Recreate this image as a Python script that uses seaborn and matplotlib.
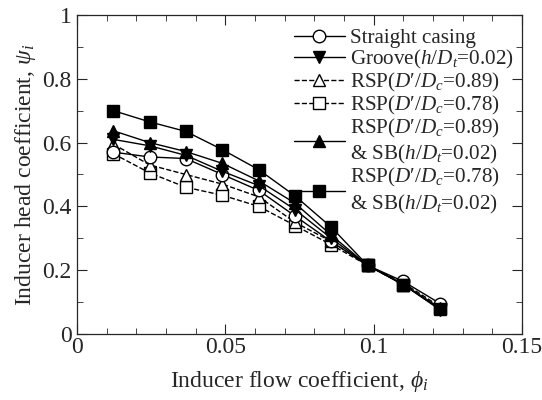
import matplotlib
matplotlib.use("Agg")
import matplotlib.pyplot as plt
from matplotlib.ticker import MultipleLocator, FuncFormatter
import seaborn as sns

# flow coefficient (x) and head coefficient for each casing (y)
phi = [0.0123, 0.0245, 0.0367, 0.049, 0.0613, 0.0735, 0.0857, 0.098, 0.110, 0.1225]

straight = [0.57, 0.555, 0.55, 0.50, 0.45, 0.37, 0.29, 0.215, 0.165, 0.095]
groove = [0.61, 0.59, 0.56, 0.51, 0.465, 0.39, 0.30, 0.215, 0.155, 0.075]
rsp_089 = [0.595, 0.53, 0.50, 0.47, 0.43, 0.35, 0.29, 0.215, 0.16, 0.085]
rsp_078 = [0.565, 0.505, 0.46, 0.435, 0.40, 0.34, 0.28, 0.215, 0.155, 0.08]
rsp_089_sb = [0.637, 0.60, 0.572, 0.535, 0.48, 0.41, 0.31, 0.215, 0.155, 0.08]
rsp_078_sb = [0.70, 0.665, 0.635, 0.578, 0.515, 0.433, 0.335, 0.215, 0.155, 0.078]

labels = [
    "Straight casing",
    "Groove($h$/$D_t$=0.02)",
    "RSP($D$\u2032/$D_c$=0.89)",
    "RSP($D$\u2032/$D_c$=0.78)",
    "RSP($D$\u2032/$D_c$=0.89)\n& SB($h$/$D_t$=0.02)",
    "RSP($D$\u2032/$D_c$=0.78)\n& SB($h$/$D_t$=0.02)",
]

sns.set_style("ticks")
plt.rcParams["font.family"] = ["Liberation Serif", "DejaVu Serif"]
plt.rcParams["mathtext.fontset"] = "custom"
plt.rcParams["mathtext.rm"] = "Liberation Serif"
plt.rcParams["mathtext.it"] = "Liberation Serif:italic"

fig = plt.figure(figsize=(5.42, 4.0), dpi=100)
ax = fig.add_axes([0.142, 0.165, 0.821, 0.7975])

styles = [
    (straight, "o", "white", "-"),
    (groove, "v", "black", "-"),
    (rsp_089, "^", "white", "--"),
    (rsp_078, "s", "white", "--"),
    (rsp_089_sb, "^", "black", "-"),
    (rsp_078_sb, "s", "black", "-"),
]

# open markers first so filled ones sit on top; legend keeps original order
for i in [3, 2, 0, 1, 4, 5]:
    vals, mk, fc, ls = styles[i]
    sns.lineplot(x=phi, y=vals, ax=ax, marker=mk, markersize=9,
                 markerfacecolor=fc, markeredgecolor="black", markeredgewidth=1,
                 color="black", linewidth=1, linestyle=ls, label=labels[i])

h, l = ax.get_legend_handles_labels()
order = [l.index(lab) for lab in labels]
ax.legend([h[k] for k in order], labels, loc="upper right", frameon=False,
          fontsize=15.2, handlelength=2.4, handletextpad=0.25, labelspacing=0.0,
          borderaxespad=0.0, bbox_to_anchor=(1.0, 0.985))

ax.set_xlim(0, 0.15)
ax.set_ylim(0, 1)
ax.xaxis.set_major_locator(MultipleLocator(0.05))
ax.xaxis.set_minor_locator(MultipleLocator(0.01))
ax.yaxis.set_major_locator(MultipleLocator(0.2))
ax.yaxis.set_minor_locator(MultipleLocator(0.1))
fmt = FuncFormatter(lambda v, p: f"{v:g}")
ax.xaxis.set_major_formatter(fmt)
ax.yaxis.set_major_formatter(fmt)
ax.tick_params(which="both", direction="in", top=True, right=True, labelsize=17, pad=2)
ax.tick_params(axis="y", pad=4)
ax.tick_params(which="major", length=7)
ax.tick_params(which="minor", length=4)
for s in ax.spines.values():
    s.set_linewidth(0.9)

ax.set_xlabel(r"Inducer flow coefficient, $\phi_i$", fontsize=17, labelpad=8)
ax.set_ylabel(r"Inducer head coefficient, $\psi_i$", fontsize=17, labelpad=3)

fig.savefig("out.png", dpi=100)
